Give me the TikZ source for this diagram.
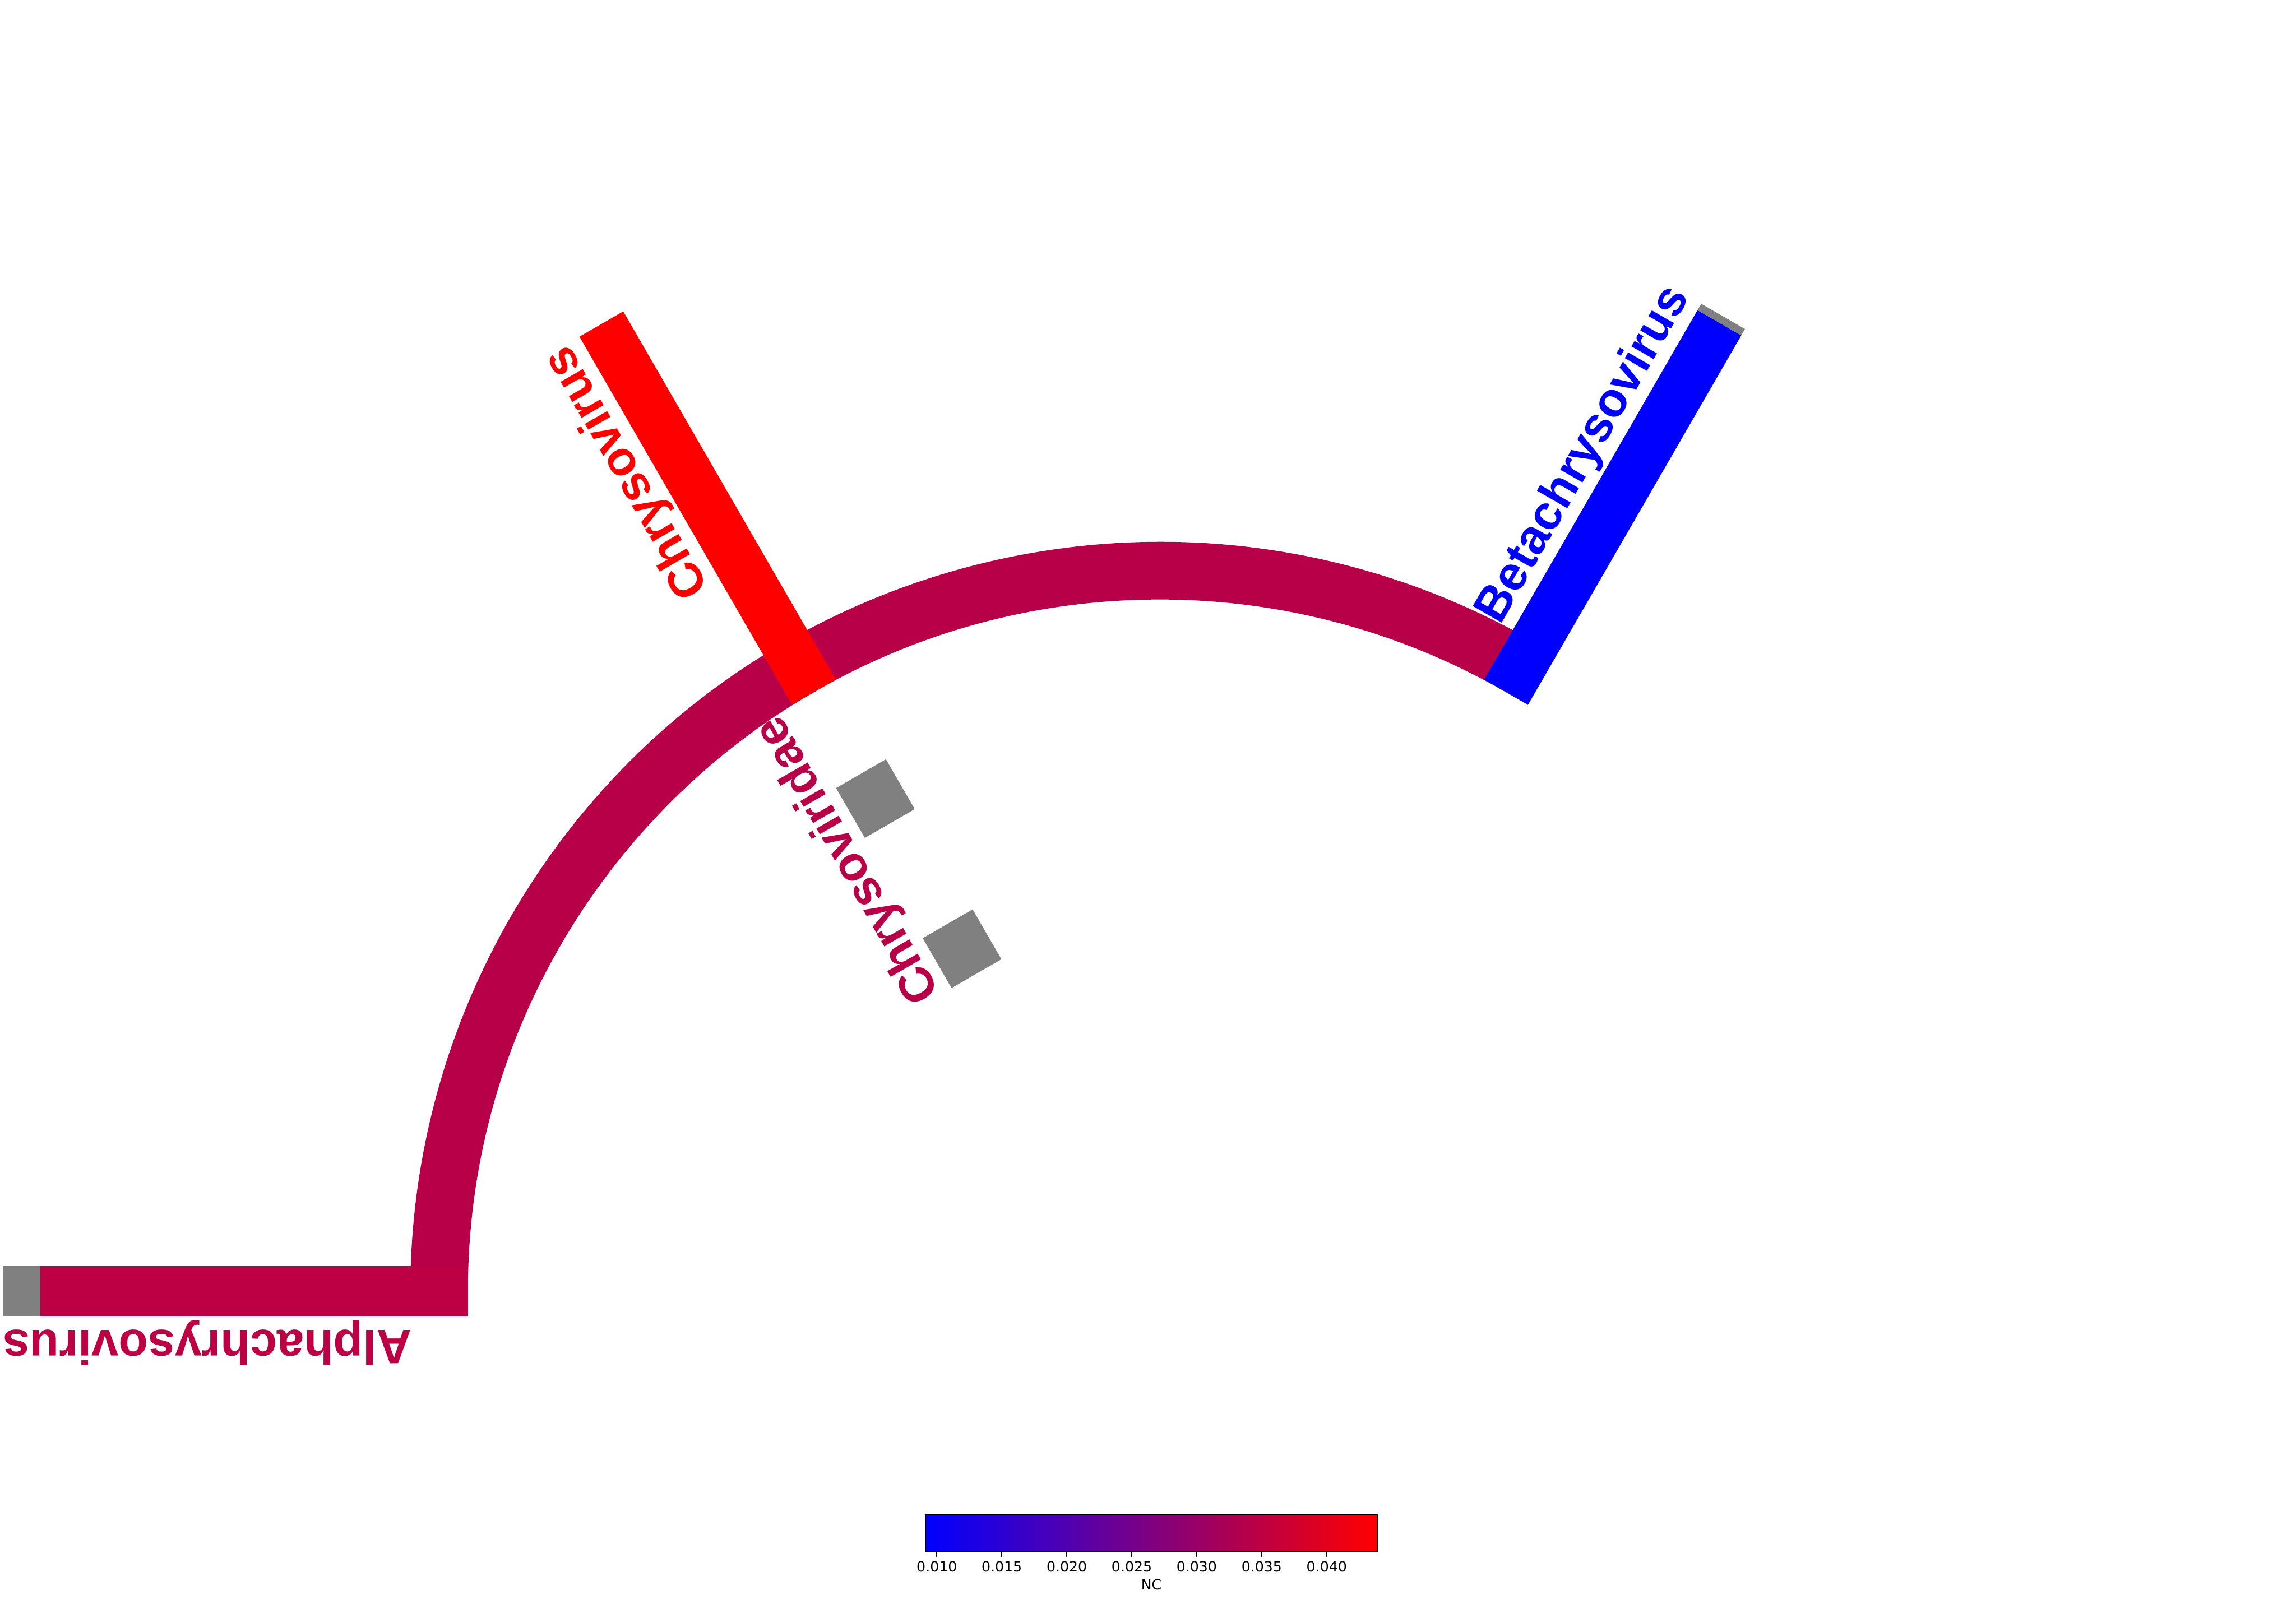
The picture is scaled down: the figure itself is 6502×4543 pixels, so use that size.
\documentclass[tikz,border=0pt]{standalone}
\usepackage{fontspec}
\setmainfont{Liberation Sans}
\newfontfamily\cbfont{DejaVu Sans}
\usetikzlibrary{calc}
\definecolor{arccol}{RGB}{184,0,72}
\definecolor{alphacol}{RGB}{188,0,67}
\definecolor{chrycol}{RGB}{255,0,0}
\definecolor{betacol}{RGB}{0,0,255}
\definecolor{capgrey}{RGB}{128,128,128}
\tikzset{
  lbl/.style={font=\fontsize{137}{137}\selectfont\bfseries, inner sep=0pt, anchor=base east},
  ticklbl/.style={font=\cbfont\fontsize{40}{40}\selectfont, inner sep=0pt, anchor=base},
  tickline/.style={line width=3pt, black},
}
\begin{document}
\begin{tikzpicture}[x=1pt,y=1pt]
\useasboundingbox (0,0) rectangle (6502,4543);
\coordinate (C) at (3285,885);
% family arc
\fill[arccol] ($(C)+(60:2123pt)$) arc[start angle=60,end angle=180,radius=2123pt]
  -- ($(C)+(180:1960pt)$) arc[start angle=180,end angle=60,radius=1960pt] -- cycle;
% Alphachrysovirus
\begin{scope}[shift={(C)},rotate=180]
  \fill[alphacol] (1960,-71.5) rectangle (3171,71.5);
  \fill[capgrey] (3171,-71.5) rectangle (3277,71.5);
  \node[lbl, text=alphacol, rotate=180] (alphalbl) at (3277,109) {Alphachrysovirus};
\end{scope}
% Chrysovirus + squares + family label
\begin{scope}[shift={(C)},rotate=120]
  \fill[chrycol] (1960,-71.5) rectangle (3164,71.5);
  \node[lbl, text=chrycol, rotate=120] (chrylbl) at (3164,109) {Chrysovirus};
  \fill[capgrey] (1530.5,-81.5) rectangle (1693.5,81.5);
  \fill[capgrey] (1039.5,-81.5) rectangle (1202.5,81.5);
  \node[lbl, text=arccol, rotate=120] (famlbl) at (1958,115) {Chrysoviridae};
\end{scope}
% Betachrysovirus
\begin{scope}[shift={(C)},rotate=60]
  \fill[betacol] (1960,-71.5) rectangle (3168,71.5);
  \fill[capgrey] (3168,-71.5) rectangle (3189,71.5);
  \node[lbl, text=betacol, rotate=60] (betalbl) at (3189,109) {Betachrysovirus};
\end{scope}
% colour bar
\shade[left color=blue, right color=red] (2620.5,147.5) rectangle (3900.5,252.5);
\draw[line width=3.3pt] (2620.5,147.5) rectangle (3900.5,252.5);
\foreach \k/\t in {0/0.010,1/0.015,2/0.020,3/0.025,4/0.030,5/0.035,6/0.040}{
  \draw[tickline] (2653+184*\k,146) -- ++(0,-13);
  \node[ticklbl] (tl\k) at (2653+184*\k,91) {\t};
}
\node[ticklbl] (nclbl) at (3260.5,40) {NC};
\end{tikzpicture}
\end{document}
